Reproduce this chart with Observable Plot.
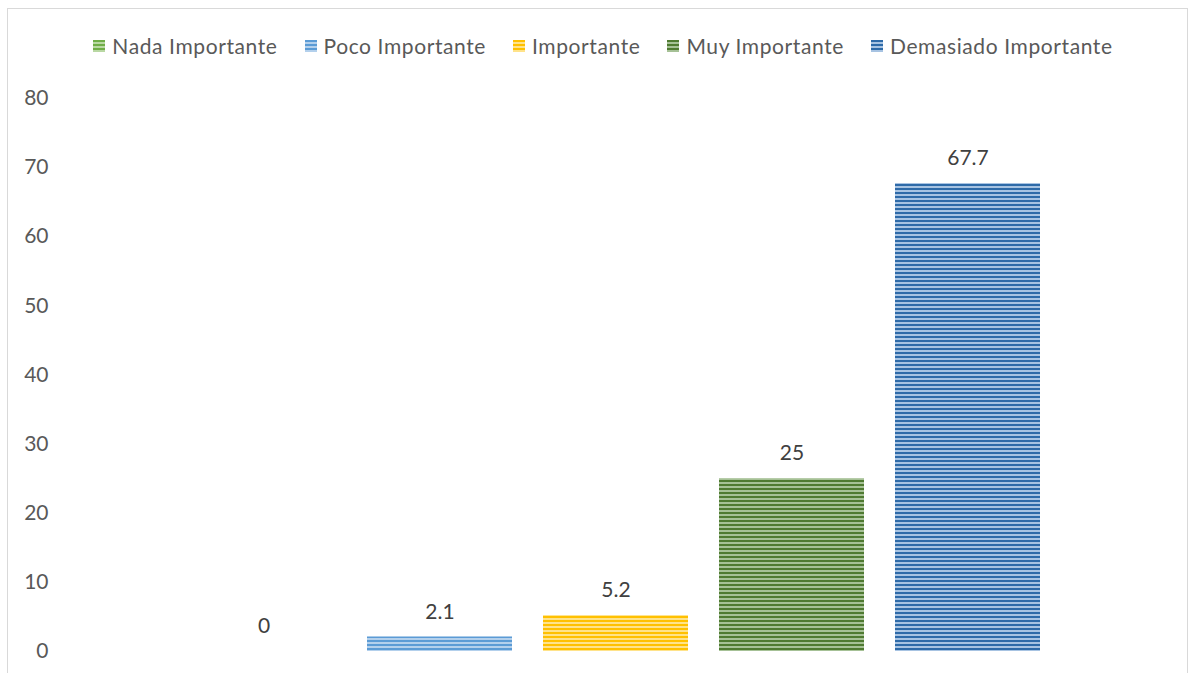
<!DOCTYPE html>
<html>
<head>
<meta charset="utf-8">
<script src="https://cdn.jsdelivr.net/npm/d3@7"></script>
<script src="https://cdn.jsdelivr.net/npm/@observablehq/plot@0.6"></script>
<style>
  html, body { margin: 0; padding: 0; background: #fff; width: 1190px; height: 673px; overflow: hidden; }
  #frame { position: absolute; left: 7px; top: 8px; width: 1181px; height: 700px; border: 1px solid #d9d9d9; box-sizing: border-box; }
  #chart { position: absolute; left: 0; top: 0; }
  #legend { position: absolute; left: 0; top: 32px; width: 1206px; display: flex; justify-content: center; gap: 27px;
            font-family: Lato, "Open Sans", sans-serif; font-size: 21px; color: #595959; line-height: 28px; letter-spacing: 0.6px; }
  .item { display: flex; align-items: center; gap: 7px; }
  .sw { width: 12px; height: 12px; display: inline-block; }
</style>
</head>
<body>
<div id="frame"></div>
<div id="chart"></div>
<div id="legend"></div>
<script>
const categories = ["Nada Importante", "Poco Importante", "Importante", "Muy Importante", "Demasiado Importante"];
const values = [0, 2.1, 5.2, 25, 67.7];
const labels = ["0", "2.1", "5.2", "25", "67.7"];
const darkColors = ["#70ad47", "#5b9bd5", "#ffc000", "#4f7a31", "#2e6aa8"];
const lightColors = ["#b9d8a3", "#b3d0ec", "#ffe38a", "#a6c196", "#a7c3e2"];
const yTicks = [0, 10, 20, 30, 40, 50, 60, 70, 80];

const data = categories.map((c, i) => ({cat: c, value: values[i], label: labels[i], pid: "pat" + i}));

const chart = Plot.plot({
  width: 1190,
  height: 673,
  marginTop: 98,
  marginBottom: 22,
  marginLeft: 60,
  marginRight: 0,
  style: {fontFamily: "Lato, 'Open Sans', sans-serif", fontSize: "21px", color: "#595959", background: "transparent"},
  x: {domain: categories, range: [174, 1058], paddingInner: 0.174, paddingOuter: 0.087, axis: null},
  y: {domain: [0, 80], ticks: yTicks, label: null},
  marks: [
    Plot.axisY(yTicks, {tickSize: 0, tickPadding: 12, label: null, fill: "#595959", fontSize: 21}),
    Plot.barY(data, {x: "cat", y: "value", fill: d => `url(#${d.pid})`}),
    Plot.text(data, {x: "cat", y: "value", text: "label", dy: -25, fill: "#404040", fontSize: 21})
  ]
});

// add stripe patterns
const svg = d3.select(chart);
const defs = svg.insert("defs", ":first-child");
categories.forEach((c, i) => {
  const p = defs.append("pattern").attr("id", "pat" + i).attr("patternUnits", "userSpaceOnUse")
    .attr("width", 4).attr("height", 4);
  p.append("rect").attr("width", 4).attr("height", 4).attr("fill", lightColors[i]);
  p.append("rect").attr("width", 4).attr("height", 2).attr("fill", darkColors[i]);
});

document.getElementById("chart").appendChild(chart);

const legend = document.getElementById("legend");
categories.forEach((c, i) => {
  const it = document.createElement("div");
  it.className = "item";
  const sw = document.createElement("span");
  sw.className = "sw";
  sw.style.background = `repeating-linear-gradient(to bottom, ${darkColors[i]} 0 2px, ${lightColors[i]} 2px 4px)`;
  const t = document.createElement("span");
  t.textContent = c;
  it.appendChild(sw); it.appendChild(t);
  legend.appendChild(it);
});
</script>
</body>
</html>
